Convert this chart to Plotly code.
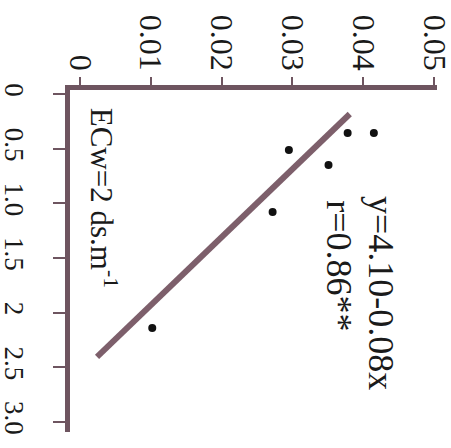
import plotly.graph_objects as go

# Data
ecw_x = [0.357, 0.357, 0.512, 0.649, 1.079, 2.14]          # values on the 0-3.0 axis
uptake_y = [0.0415, 0.0378, 0.0295, 0.0351, 0.0272, 0.0102]  # values on the 0-0.05 axis

fit_x = [0.183, 2.405]
fit_y = [0.0381, 0.0024]

y_tick_vals = [0, 0.01, 0.02, 0.03, 0.04, 0.05]
y_tick_text = ["0", "0.01", "0.02", "0.03", "0.04", "0.05"]
x_tick_vals = [0, 0.5, 1.0, 1.5, 2.0, 2.5, 3.0]
x_tick_text = ["0", "0.5", "1.0", "1.5", "2", "2.5", "3.0"]

AXC = "#6e5560"
LINEC = "#7d5f6b"
FONT = "Liberation Serif"

fig = go.Figure()
fig.add_trace(go.Scatter(x=fit_y, y=fit_x, mode="lines",
                         line=dict(color=LINEC, width=6), hoverinfo="skip"))
fig.add_trace(go.Scatter(x=uptake_y, y=ecw_x, mode="markers",
                         marker=dict(color="#111111", size=8, symbol="circle")))

fig.update_layout(
    width=451, height=448,
    margin=dict(l=70, r=14, t=90, b=16, autoexpand=False),
    paper_bgcolor="white", plot_bgcolor="white",
    showlegend=False,
    font=dict(family=FONT, color="#1a1a1a"),
    xaxis=dict(side="top", range=[-0.001416, 0.05042], automargin=False,
               tickvals=y_tick_vals, ticktext=y_tick_text, tickangle=90,
               tickfont=dict(size=32, family=FONT, color="#1a1a1a"),
               showgrid=False, zeroline=False,
               showline=True, linecolor=AXC, linewidth=5,
               ticks="outside", ticklen=8, tickwidth=2, tickcolor=AXC,
               ticklabelstandoff=-5, ticklabeloverflow="allow"),
    yaxis=dict(range=[3.0915, -0.0366], automargin=False,
               tickvals=x_tick_vals, ticktext=x_tick_text, tickangle=90,
               tickfont=dict(size=27, family=FONT, color="#1a1a1a"),
               showgrid=False, zeroline=False,
               showline=True, linecolor=AXC, linewidth=5,
               ticks="outside", ticklen=12, tickwidth=2, tickcolor=AXC,
               ticklabelstandoff=16, ticklabeloverflow="allow"),
    annotations=[
        dict(x=0.00326, y=0.95, xref="x", yref="y", text="ECw=2 ds.m<sup>-1</sup>",
             textangle=90, showarrow=False, font=dict(size=31, family=FONT, color="#1a1a1a"),
             xanchor="center", yanchor="middle"),
        dict(x=0.0425, y=1.82, xref="x", yref="y", text="y=4.10-0.08x",
             textangle=90, showarrow=False, font=dict(size=36, family=FONT, color="#1a1a1a"),
             xanchor="center", yanchor="middle"),
        dict(x=0.03654, y=1.573, xref="x", yref="y", text="r=0.86**",
             textangle=90, showarrow=False, font=dict(size=36, family=FONT, color="#1a1a1a"),
             xanchor="center", yanchor="middle"),
    ],
)

fig.write_html("out.html", config={"displayModeBar": False},
               post_script="document.body.style.margin='0';")
